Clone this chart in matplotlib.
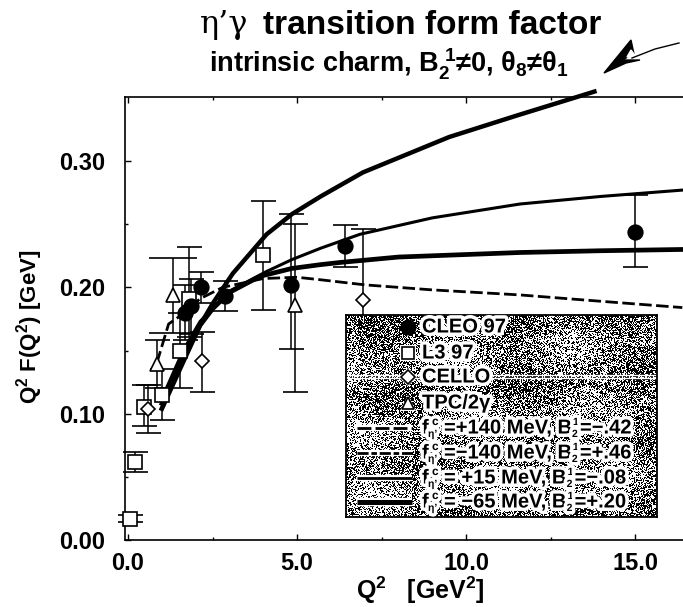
import matplotlib
matplotlib.use("Agg")
import matplotlib.pyplot as plt
import matplotlib.patheffects as pe
import numpy as np

# data points: value, lower error, upper error
cleo_x = [1.7, 1.87, 2.15, 2.87, 4.83, 6.42, 15.0]
cleo_y = [0.180, 0.185, 0.200, 0.193, 0.202, 0.233, 0.244]
cleo_lo = [0.022, 0.022, 0.012, 0.012, 0.051, 0.017, 0.028]
cleo_hi = [0.022, 0.022, 0.012, 0.012, 0.056, 0.016, 0.029]

l3_x = [0.06, 0.21, 0.47, 1.0, 1.55, 1.8, 4.0]
l3_y = [0.017, 0.062, 0.105, 0.115, 0.150, 0.191, 0.226]
l3_lo = [0.003, 0.008, 0.015, 0.020, 0.030, 0.030, 0.044]
l3_hi = [0.003, 0.008, 0.018, 0.020, 0.030, 0.041, 0.042]

cello_x = [0.59, 2.18, 6.95]
cello_y = [0.104, 0.142, 0.190]
cello_lo = [0.019, 0.025, 0.050]
cello_hi = [0.019, 0.023, 0.056]

tpc_x = [0.85, 1.33, 4.95]
tpc_y = [0.139, 0.194, 0.186]
tpc_lo = [0.019, 0.030, 0.069]
tpc_hi = [0.019, 0.029, 0.064]

# theory curves
dash_x = [0.85, 1.2, 1.63, 2.13, 2.8, 4.0, 5.0, 5.7, 7.0, 9.0, 11.6, 13.5, 16.4]
dash_y = [0.140, 0.171, 0.179, 0.191, 0.200, 0.207, 0.208, 0.206, 0.202, 0.198, 0.194, 0.190, 0.184]
top_x = [1.0, 1.63, 2.13, 2.5, 3.1, 4.1, 4.85, 5.7, 6.95, 9.5, 11.5, 13.8]
top_y = [0.108, 0.144, 0.170, 0.187, 0.211, 0.242, 0.258, 0.272, 0.291, 0.319, 0.336, 0.355]
thin_x = [1.0, 1.63, 2.13, 3.0, 4.1, 4.85, 5.7, 6.86, 9.0, 11.6, 14.0, 16.4]
thin_y = [0.112, 0.150, 0.173, 0.197, 0.2126, 0.222, 0.231, 0.242, 0.255, 0.266, 0.272, 0.277]
thick_x = [1.0, 1.63, 2.13, 2.5, 3.0, 3.9, 4.85, 5.7, 6.27, 8.0, 11.6, 14.0, 16.4]
thick_y = [0.104, 0.141, 0.170, 0.183, 0.196, 0.2087, 0.215, 0.218, 0.2197, 0.224, 0.2276, 0.229, 0.230]

x_ticks = [0, 5, 10, 15]
x_labels = ["0.0", "5.0", "10.0", "15.0"]
y_ticks = [0, 0.1, 0.2, 0.3]
y_labels = ["0.00", "0.10", "0.20", "0.30"]

legend_points = ["CLEO 97", "L3 97", "CELLO", "TPC/2γ"]
legend_masses = ["=+140 MeV, B", "=−140 MeV, B", "= +15 MeV, B", "= −65 MeV, B"]
legend_b21 = ["=−.42", "=+.46", "=−.08", "=+.20"]

plt.rcParams["font.family"] = ["Liberation Sans", "DejaVu Sans"]
plt.rcParams["mathtext.fontset"] = "custom"
plt.rcParams["mathtext.rm"] = "Liberation Sans:bold"
plt.rcParams["mathtext.it"] = "Liberation Sans:bold"
plt.rcParams["mathtext.bf"] = "Liberation Sans:bold"

fig = plt.figure(figsize=(6.83, 6.07), dpi=100)
ax = fig.add_axes([125 / 683, 1 - 540 / 607, (683 - 125) / 683, (540 - 97) / 607])
ax.set_xlim(-0.09, 16.42)
ax.set_ylim(0, 0.3507)

ax.plot(dash_x, dash_y, color="black", lw=2, ls=(0, (4.5, 1.6)), zorder=3)
ax.plot(top_x, top_y, color="black", lw=3.2, zorder=3, clip_on=False)
ax.plot(thin_x, thin_y, color="black", lw=2.2, zorder=3)
ax.plot(thick_x, thick_y, color="black", lw=3.4, zorder=3)


def points(x, y, lo, hi, marker, size, face, cap=9):
    ax.errorbar(x, y, yerr=[lo, hi], fmt=marker, ms=size, mfc=face, mec="black", mew=1.2,
                ecolor="black", elinewidth=1.1, capsize=cap, capthick=1.1, zorder=4, clip_on=False)


points(l3_x, l3_y, l3_lo, l3_hi, "s", 9.5, "white")
points(cello_x, cello_y, cello_lo, cello_hi, "D", 7.5, "white")
points(tpc_x[:1], tpc_y[:1], tpc_lo[:1], tpc_hi[:1], "^", 9.5, "white", cap=9)
points(tpc_x[1:2], tpc_y[1:2], tpc_lo[1:2], tpc_hi[1:2], "^", 9.5, "white", cap=17)
points(tpc_x[2:], tpc_y[2:], tpc_lo[2:], tpc_hi[2:], "^", 9.5, "white", cap=9)
points(cleo_x, cleo_y, cleo_lo, cleo_hi, "o", 10.5, "black")

ax.set_xticks(x_ticks, x_labels, fontsize=17, fontweight="bold")
ax.set_yticks(y_ticks, y_labels, fontsize=17, fontweight="bold")
ax.set_xticks([2.5, 7.5, 12.5], minor=True)
ax.set_yticks([0.05, 0.15, 0.25], minor=True)
ax.tick_params(direction="in", length=4, width=1, top=True)
ax.tick_params(axis="x", pad=9)
ax.tick_params(axis="y", pad=14)
ax.tick_params(which="minor", direction="in", length=2.5, width=1, top=True)
ax.spines["right"].set_visible(False)
for s in ["left", "top", "bottom"]:
    ax.spines[s].set_linewidth(1.2)

fig.text(30 / 683, 1 - 327 / 607, "Q$^2$ F(Q$^2$) [GeV]", rotation=90, fontsize=16, fontweight="bold",
         ha="center", va="center")
fig.text(420 / 683, 1 - 590 / 607, "Q$^2$   [GeV$^2$]", fontsize=18, fontweight="bold", ha="center", va="center")
fig.text(200 / 683, 1 - 25 / 607, "η’γ", fontsize=23, family="DejaVu Serif", va="center")
fig.text(263 / 683, 1 - 25 / 607, "transition form factor", fontsize=24, fontweight="bold", va="center")
fig.text(209 / 683, 1 - 64 / 607, "intrinsic charm, B$_2^{\\ 1}$≠0, θ$_8$≠θ$_1$", fontsize=19.5, fontweight="bold",
         va="center")

# legend box with a fine speckled background, darker in patches
box = fig.add_axes([346 / 683, 1 - 517 / 607, 311 / 683, 202 / 607], zorder=6)
box.set_xlim(0, 311)
box.set_ylim(202, 0)
box.set_xticks([])
box.set_yticks([])
ii, jj = np.indices((202, 311))
hash_grid = np.sin(ii * 12.9898 + jj * 78.233) * 43758.5453
hash_grid = hash_grid - np.floor(hash_grid)
density = 0.50 + 0.20 * np.sin(jj / 34.0 + ii / 26.0) * np.cos(ii / 18.0 - jj / 46.0)
box.imshow(hash_grid > density, cmap="gray", extent=(0, 311, 202, 0), aspect="auto", interpolation="nearest")
box.axhline(60, color="white", lw=1)
box.axhline(63, color="white", lw=1)
for s in box.spines.values():
    s.set_linewidth(1.3)

halo = [pe.withStroke(linewidth=5, foreground="white")]
renderer = fig.canvas.get_renderer()


def legend_text(x, y, s, size=14.5):
    # one piece of a legend row, returns where the next piece starts
    t = box.text(x, y, s, color="black", fontsize=size, fontweight="bold", va="center", path_effects=halo)
    return x + t.get_window_extent(renderer=renderer).width


point_rows = [12, 38, 62, 88]
line_rows = [113, 138, 163, 187]
marks = [("o", "black", 9.5), ("s", "white", 9), ("D", "white", 7.5), ("^", "white", 9)]
for yy, label, mark in zip(point_rows, legend_points, marks):
    box.plot(62, yy, mark[0], mfc=mark[1], mec="white", ms=mark[2] + 2, mew=0)
    box.plot(62, yy, mark[0], mfc=mark[1], mec="black", ms=mark[2], mew=1.2)
    legend_text(76, yy, label)
line_styles = [(0, (5, 1.5)), (0, (4, 1, 2, 1)), "-", "-"]
line_widths = [2, 2, 2, 3.6]
for yy, mass, b21, style, width in zip(line_rows, legend_masses, legend_b21, line_styles, line_widths):
    box.plot([11, 66], [yy, yy], color="white", lw=width + 2.5, solid_capstyle="butt")
    box.plot([11, 66], [yy, yy], color="black", lw=width, ls=style, solid_capstyle="butt")
    legend_text(76, yy, "f")
    legend_text(82, yy + 6, "η’", 7.5)
    legend_text(86, yy - 6, "c", 8.5)
    xx = legend_text(98, yy, mass)
    legend_text(xx, yy + 6, "2", 7.5)
    legend_text(xx + 1, yy - 6, "1", 7.5)
    legend_text(xx + 8, yy, b21)

# small scribble logo next to the subtitle
logo = fig.add_axes([600 / 683, 1 - 78 / 607, 83 / 683, 40 / 607])
logo.set_xlim(600, 683)
logo.set_ylim(78, 38)
logo.axis("off")
logo.fill([604, 631, 634, 622, 640, 626], [73, 40, 54, 60, 60, 63], color="black")
logo.fill([627, 631, 637], [57, 50, 58], color="white")
logo.plot([632, 655, 679], [58, 49, 43], color="black", lw=1)

fig.savefig("out.png", dpi=100)
